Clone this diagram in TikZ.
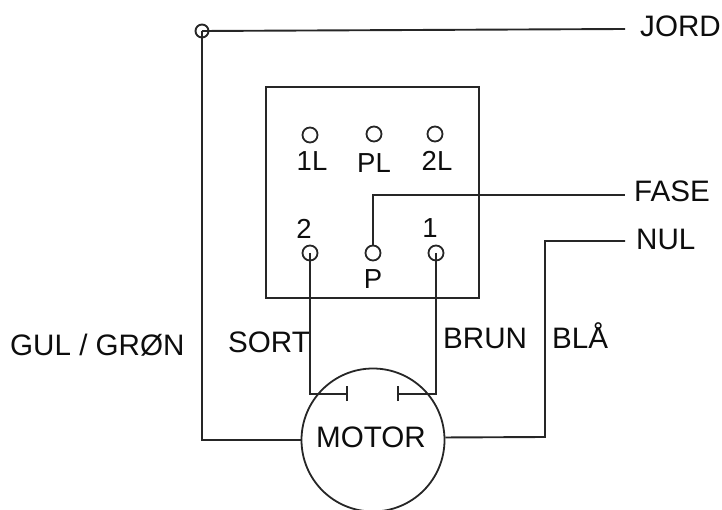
\documentclass[tikz,border=0pt]{standalone}
\usepackage{fontspec}
\setmainfont{Liberation Sans}
\begin{document}
\begin{tikzpicture}[x=1pt,y=-1pt,
  wire/.style={draw=black!85,line width=1.9pt},
  term/.style={circle,draw=black!85,line width=1.8pt,minimum size=15pt,inner sep=0pt},
  jordterm/.style={circle,draw=black!85,line width=1.9pt,minimum size=13pt,inner sep=0pt},
  lab/.style={inner sep=0pt,text=black!95,font=\fontsize{29.6}{30}\selectfont,anchor=base west},
  termlab/.style={inner sep=0pt,text=black!95,font=\fontsize{27.5}{28}\selectfont,anchor=base}]
\useasboundingbox (0,0) rectangle (722,510);
\node[draw=black!85,line width=1.9pt,minimum width=213pt,minimum height=211pt,inner sep=0pt] (box) at (372.5,192.5) {};
\node[circle,draw=black!85,line width=1.8pt,minimum size=143pt,inner sep=0pt] (motor) at (373,440) {};
\node[term] (t1L) at (310,135) {};
\node[term] (tPL) at (374,134) {};
\node[term] (t2L) at (435,134) {};
\node[term] (t2) at (310,253) {};
\node[term] (tP) at (373,253) {};
\node[term] (t1) at (436,253) {};
\node[jordterm] (jord) at (202,31) {};
\node[lab] (ljord) at (640,37) {JORD};
\node[lab] (lfase) at (634,202) {FASE};
\node[lab] (lnul) at (636,250) {NUL};
\node[lab] (lgul) at (10,355) {GUL / GRØN};
\node[lab] (lsort) at (228,352) {SORT};
\node[lab] (lbrun) at (443,348) {BRUN};
\node[lab] (lbla) at (552,348) {BLÅ};
\node[lab] (lmotor) at (316,447) {MOTOR};
\node[termlab] (n1L) at (312,171) {1L};
\node[termlab] (nPL) at (374,173) {PL};
\node[termlab] (n2L) at (437,171) {2L};
\node[termlab] (n2) at (304,239) {2};
\node[termlab] (n1) at (430,238) {1};
\node[termlab] (nP) at (373,289) {P};
% free ends
\coordinate (ej) at (625,29);
\coordinate (ef) at (625,195);
\coordinate (en) at (625,241);
\coordinate (c2) at (347,394);
\coordinate (c1) at (398,394);
\draw[wire] (jord.center) -- (ej);
\draw[wire] (jord.center) -- (202,440) -- (motor.west);
\draw[wire] (tP.north) -- (373,195) -- (ef);
\draw[wire] (motor.2) -- (545,437) -- (545,241) -- (en);
\draw[wire] (t2.center) -- (310,394) -- (c2);
\draw[wire] (t1.center) -- (436,394) -- (c1);
\draw[wire] ([yshift=-7pt]c2) -- ([yshift=8pt]c2);
\draw[wire] ([yshift=-7pt]c1) -- ([yshift=8pt]c1);
\end{tikzpicture}
\end{document}
